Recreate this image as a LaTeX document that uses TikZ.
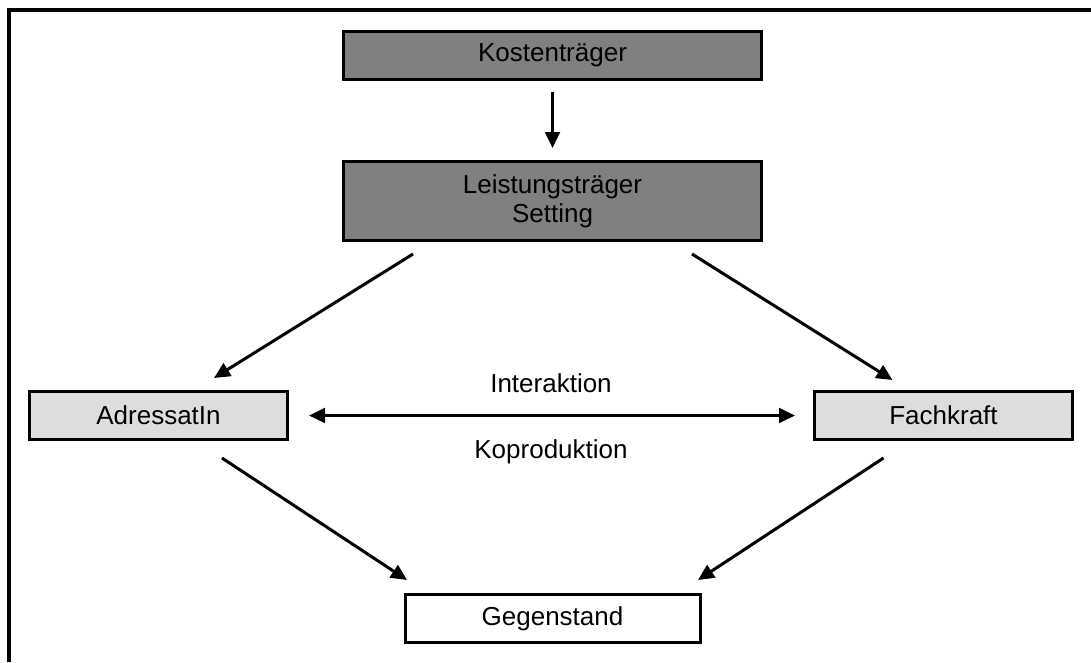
\documentclass[tikz,border=0pt]{standalone}
\usepackage{fontspec}
\setmainfont{Liberation Sans}
\usetikzlibrary{positioning,arrows.meta}

\definecolor{dunkelgrau}{HTML}{808080}
\definecolor{hellgrau}{HTML}{DDDDDD}

\begin{document}
\begin{tikzpicture}[x=0.75pt,y=-0.75pt,font=\fontsize{19.5}{21.5}\selectfont,
  every node/.style={inner sep=0pt,align=center},
  box/.style={draw,line width=2.25pt,minimum height=36pt},
  traeger/.style={box,fill=dunkelgrau,minimum width=313.5pt},
  person/.style={box,fill=hellgrau,minimum width=193.5pt},
  pfeil/.style={line width=2.25pt,-{Triangle[length=12pt,width=11pt]}},
  doppelpfeil/.style={line width=2.25pt,{Triangle[length=12pt,width=11pt]}-{Triangle[length=12pt,width=11pt]}}]
  \useasboundingbox (0,0) rectangle (1091,662);
  \draw[line width=2.6pt] (9,662) -- (9,10) -- (1091,10);

  \node[traeger]                         (kost) at (552.5,55.5)                        {Kostenträger};
  \node[traeger,minimum height=59.25pt]  (lst)  [below=59.25pt of kost]                {Leistungsträger\\Setting};
  \node[person]                          (adr)  [below left=111pt and 39.75pt of lst]  {AdressatIn};
  \node[person]                          (fach) [below right=111pt and 37.5pt of lst]  {Fachkraft};
  \node[box,fill=white,minimum width=221.25pt] (geg) [below=263.25pt of lst]          {Gegenstand};

  \path[pfeil] ([yshift=-8.25pt]kost.south)       edge ([yshift=9pt]lst.north)
               ([shift={(-139.5,12)}]lst.south)  edge ([shift={(55.5,-12)}]adr.north)
               ([shift={(139.5,12)}]lst.south)   edge ([shift={(-51,-10)}]fach.north)
               ([shift={(63.5,17)}]adr.south)    edge ([shift={(-145.5,-13)}]geg.north)
               ([shift={(-60,17)}]fach.south)    edge ([shift={(145.5,-13)}]geg.north);

  \path (adr) edge[doppelpfeil,shorten <=15pt,shorten >=13.5pt]
                   node[yshift=24pt]  {Interaktion}
                   node[yshift=-27pt] {Koproduktion} (fach);
\end{tikzpicture}
\end{document}
